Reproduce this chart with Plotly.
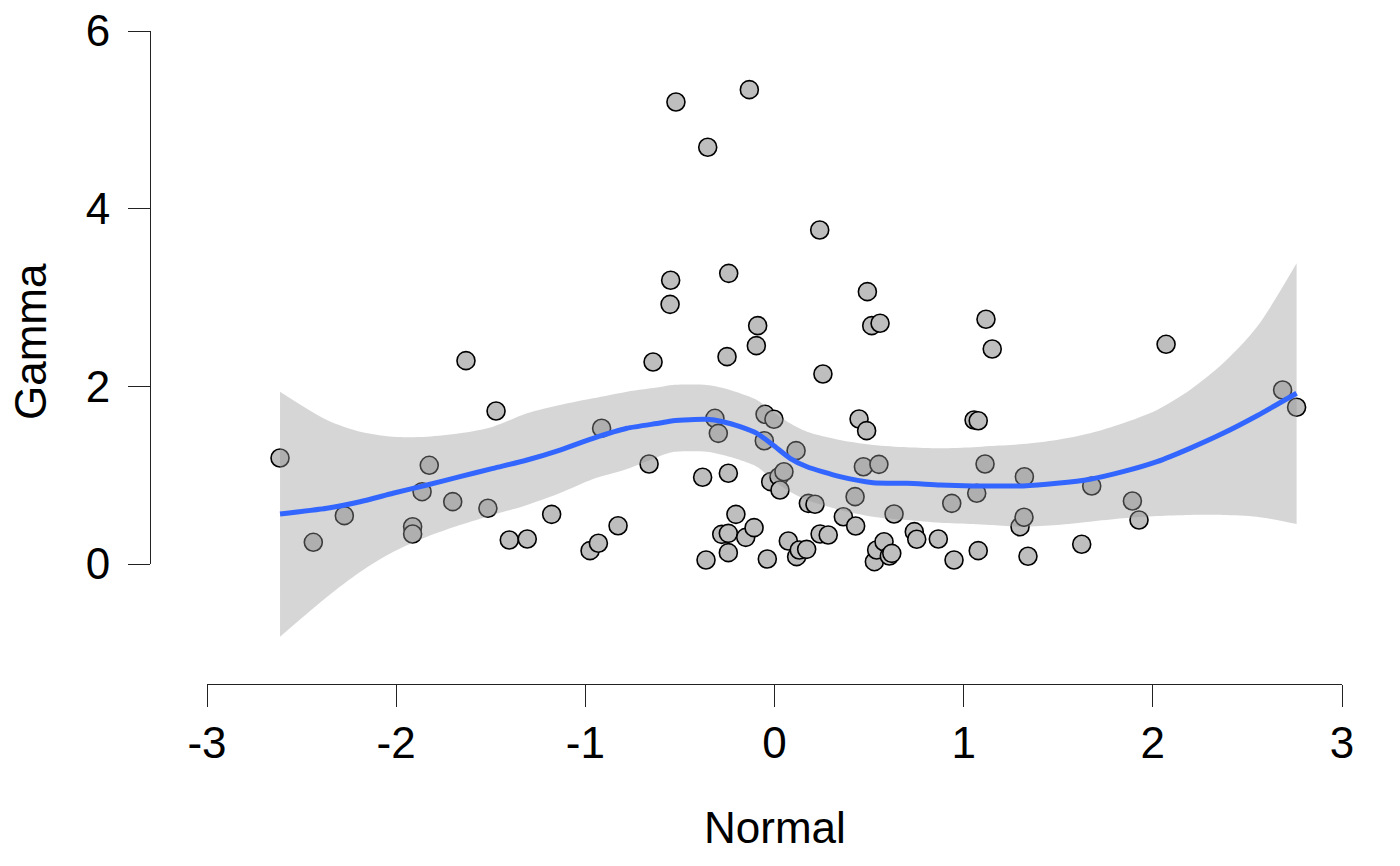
import plotly.graph_objects as go

# ---------------- data ----------------
normal = [-2.614, -2.438, -2.274, -1.913, -1.913, -1.863, -1.825, -1.701, -1.631, -1.515,
          -1.472, -1.402, -1.307, -1.178, -0.975, -0.931, -0.914, -0.827, -0.663, -0.642,
          -0.552, -0.549, -0.521, -0.380, -0.362, -0.353, -0.315, -0.297, -0.279, -0.251,
          -0.242, -0.244, -0.244, -0.244, -0.204, -0.152, -0.133, -0.108, -0.096, -0.089,
          -0.054, -0.050, -0.038, -0.020, -0.003, 0.024, 0.029, 0.050, 0.073, 0.114,
          0.117, 0.131, 0.170, 0.179, 0.214, 0.239, 0.241, 0.256, 0.284, 0.364,
          0.429, 0.426, 0.447, 0.470, 0.487, 0.491, 0.514, 0.528, 0.540, 0.552,
          0.558, 0.579, 0.607, 0.620, 0.632, 0.739, 0.752, 0.866, 0.937, 0.949,
          1.055, 1.069, 1.077, 1.077, 1.113, 1.118, 1.151, 1.298, 1.319, 1.321,
          1.340, 1.624, 1.677, 1.892, 1.927, 2.070, 2.686, 2.760]
gamma = [1.193, 0.244, 0.544, 0.420, 0.338, 0.814, 1.111, 0.702, 2.289, 0.627,
         1.722, 0.270, 0.281, 0.559, 0.150, 0.233, 1.528, 0.431, 1.126, 2.274,
         2.923, 3.194, 5.201, 0.976, 0.045, 4.691, 1.640, 1.471, 0.334, 2.334,
         3.272, 1.021, 0.345, 0.128, 0.559, 0.300, 5.340, 0.409, 2.458, 2.683,
         1.388, 1.685, 0.056, 0.927, 1.629, 0.983, 0.833, 1.039, 0.259, 1.276,
         0.083, 0.158, 0.165, 0.683, 0.672, 3.760, 0.338, 2.139, 0.326, 0.532,
         0.428, 0.758, 1.632, 1.095, 1.501, 3.066, 2.683, 0.026, 0.158, 1.122,
         2.710, 0.251, 0.090, 0.120, 0.563, 0.364, 0.278, 0.281, 0.683, 0.045,
         1.621, 0.796, 1.613, 0.150, 1.126, 2.755, 2.420, 0.420, 0.526, 0.983,
         0.087, 0.222, 0.878, 0.709, 0.495, 2.473, 1.959, 1.764]

smooth_x = [-2.614, -2.366, -2.191, -2.017, -1.837, -1.663, -1.488, -1.308, -1.134, -0.959,
            -0.780, -0.605, -0.537, -0.357, -0.272, -0.182, -0.093, -0.008, 0.082, 0.172,
            0.346, 0.521, 0.700, 0.875, 1.049, 1.139, 1.314, 1.493, 1.668, 1.842,
            2.022, 2.196, 2.371, 2.551, 2.760]
smooth_fit = [0.563, 0.627, 0.701, 0.796, 0.889, 0.983, 1.077, 1.171, 1.283, 1.415,
              1.528, 1.587, 1.613, 1.629, 1.602, 1.546, 1.471, 1.340, 1.190, 1.095,
              0.983, 0.915, 0.908, 0.889, 0.878, 0.878, 0.878, 0.908, 0.954, 1.039,
              1.152, 1.302, 1.471, 1.669, 1.922]
smooth_upper = [1.940, 1.621, 1.489, 1.433, 1.433, 1.471, 1.546, 1.697, 1.790, 1.865,
                1.940, 1.993, 2.015, 2.015, 1.981, 1.922, 1.846, 1.715, 1.584, 1.489,
                1.396, 1.340, 1.314, 1.302, 1.314, 1.328, 1.351, 1.396, 1.471, 1.584,
                1.734, 1.959, 2.259, 2.671, 3.385]
smooth_lower = [-0.818, -0.371, -0.090, 0.135, 0.307, 0.439, 0.552, 0.664, 0.799, 0.957,
                1.069, 1.216, 1.261, 1.264, 1.227, 1.171, 1.095, 0.946, 0.814, 0.720,
                0.608, 0.532, 0.495, 0.465, 0.450, 0.439, 0.420, 0.439, 0.476, 0.514,
                0.540, 0.552, 0.552, 0.532, 0.450]

x_ticks = [-3, -2, -1, 0, 1, 2, 3]
x_tick_labels = ["-3", "-2", "-1", "0", "1", "2", "3"]
y_ticks = [0, 2, 4, 6]
y_tick_labels = ["0", "2", "4", "6"]

# ---------------- layout geometry (pixels) ----------------
W, H = 1400, 866
FONT = "Liberation Sans, Arial, Helvetica, sans-serif"
FS = 44
px_x0, px_x1 = 207, 1342          # x = -3 .. 3
px_y0, px_y6 = 564, 31            # y = 0 .. 6
data_top = 10                     # top pixel of the (hidden) data y-axis
xaxis_line_px = 684               # x-axis line = bottom of data area
yaxis_line_px = 150
ppu_y = (px_y0 - px_y6) / 6.0

fig = go.Figure()

fig.add_trace(go.Scatter(
    x=normal, y=gamma, mode="markers",
    marker=dict(size=18, color="#BEBEBE", line=dict(color="black", width=1.6)),
    xaxis="x", yaxis="y", showlegend=False, hoverinfo="skip"))

# confidence ribbon (lower bound, then upper filled to it)
fig.add_trace(go.Scatter(
    x=smooth_x, y=smooth_lower, mode="lines",
    line=dict(width=0, shape="spline", smoothing=0.8, color="rgba(0,0,0,0)"),
    xaxis="x", yaxis="y", showlegend=False, hoverinfo="skip"))
fig.add_trace(go.Scatter(
    x=smooth_x, y=smooth_upper, mode="lines", fill="tonexty",
    fillcolor="rgba(153,153,153,0.4)",
    line=dict(width=0, shape="spline", smoothing=0.8, color="rgba(0,0,0,0)"),
    xaxis="x", yaxis="y", showlegend=False, hoverinfo="skip"))

fig.add_trace(go.Scatter(
    x=smooth_x, y=smooth_fit, mode="lines",
    line=dict(color="#3366FF", width=5, shape="spline", smoothing=0.6),
    xaxis="x", yaxis="y", showlegend=False, hoverinfo="skip"))

# empty trace so the displayed y-axis exists
fig.add_trace(go.Scatter(x=[None], y=[None], xaxis="x", yaxis="y2",
                         showlegend=False, hoverinfo="skip"))

fig.update_layout(
    template="none",
    width=W, height=H,
    margin=dict(l=0, r=0, t=0, b=0, pad=0),
    paper_bgcolor="white", plot_bgcolor="rgba(0,0,0,0)",
    font=dict(family=FONT, size=FS, color="black"),
    showlegend=False,
    xaxis=dict(
        domain=[px_x0 / W, px_x1 / W], range=[-3, 3], anchor="y",
        automargin=False,
        showgrid=False, zeroline=False, showline=True, linecolor="#222", linewidth=1,
        ticks="outside", ticklen=22, tickcolor="#222", tickwidth=1,
        tickvals=x_ticks, ticktext=x_tick_labels, ticklabelstandoff=-2,
        tickfont=dict(family=FONT, size=FS, color="black"),
    ),
    yaxis=dict(
        domain=[1 - xaxis_line_px / H, 1 - data_top / H],
        range=[(px_y0 - xaxis_line_px) / ppu_y, (px_y0 - data_top) / ppu_y],
        automargin=False,
        showline=False, showticklabels=False, ticks="",
        showgrid=False, zeroline=False,
    ),
    yaxis2=dict(
        domain=[1 - px_y0 / H, 1 - px_y6 / H], range=[0, 6],
        anchor="free", position=yaxis_line_px / W, automargin=False,
        showgrid=False, zeroline=False, showline=True, linecolor="#222", linewidth=1,
        ticks="outside", ticklen=22, tickcolor="#222", tickwidth=1,
        tickvals=y_ticks, ticktext=y_tick_labels, ticklabelstandoff=9,
        tickfont=dict(family=FONT, size=FS, color="black"),
    ),
    annotations=[
        dict(text="Normal", x=(px_x0 + px_x1) / 2 / W, y=1 - 827 / H, xref="paper", yref="paper",
             showarrow=False, font=dict(family=FONT, size=FS, color="black"),
             xanchor="center", yanchor="middle"),
        dict(text="Gamma", x=30 / W, y=1 - 342 / H, xref="paper", yref="paper",
             showarrow=False, textangle=-90, font=dict(family=FONT, size=FS, color="black"),
             xanchor="center", yanchor="middle"),
    ],
)

fig.write_html("out.html",
               config={"displayModeBar": False},
               post_script="document.body.style.margin='0';document.body.style.overflow='hidden';")
